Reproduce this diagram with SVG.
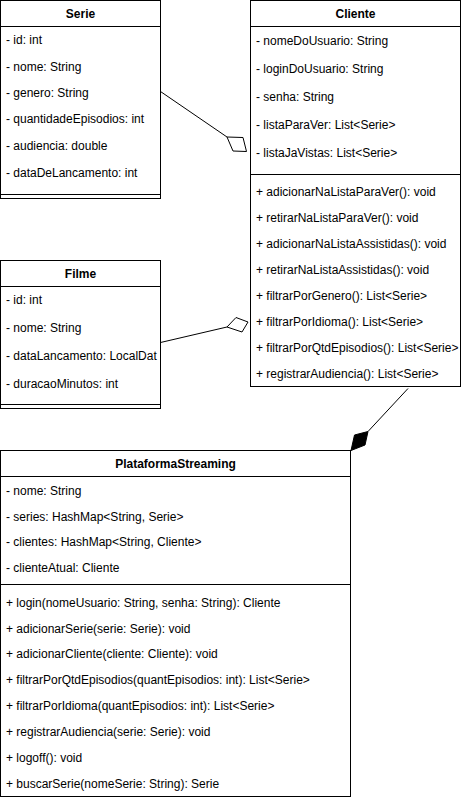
<svg xmlns="http://www.w3.org/2000/svg" width="461" height="800" viewBox="0 0 461 800">
<style>
.box{fill:#fff;stroke:#000;stroke-width:1}
.ln{stroke:#000;stroke-width:1;fill:none}
text{font-family:"Liberation Sans",Arial,Helvetica,sans-serif;font-size:12px;fill:#000}
.t{font-weight:bold;text-anchor:middle}
</style>
<rect width="461" height="800" fill="#fff"/>
<g id="edges">
<path class="ln" d="M160.5 91.5 L227 137"/>
<polygon class="ln" fill="#fff" points="227,137 243,137.5 246.5,151.5 233,151"/>
<path class="ln" d="M160.5 342.5 L227 327"/>
<polygon class="ln" fill="#fff" points="227,327 236,317.5 248,322 242,332"/>
<path class="ln" d="M408 388.5 L368 431.5"/>
<polygon fill="#000" stroke="#000" points="368,431.5 365,445 351,450.5 354.5,435"/>
</g>
<g id="Serie">
<rect class="box" x="0.5" y="0.5" width="160" height="198"/>
<path class="ln" d="M0.5 26.5 H160.5 M0.5 194.5 H160.5"/>
<text class="t" x="80.5" y="17.5">Serie</text>
<text x="6" y="44">- id: int</text>
<text x="6" y="70.5">- nome: String</text>
<text x="6" y="96.5">- genero: String</text>
<text x="6" y="122.5">- quantidadeEpisodios: int</text>
<text x="6" y="149.5">- audiencia: double</text>
<text x="6" y="177">- dataDeLancamento: int</text>
</g>
<g id="Cliente">
<rect class="box" x="250.5" y="0.5" width="210" height="386"/>
<path class="ln" d="M250.5 26.5 H460.5 M250.5 174.5 H460.5"/>
<text class="t" x="355.5" y="17.5">Cliente</text>
<text x="256" y="44.5">- nomeDoUsuario: String</text>
<text x="256" y="72.5">- loginDoUsuario: String</text>
<text x="256" y="100.5">- senha: String</text>
<text x="256" y="128.5">- listaParaVer: List&lt;Serie&gt;</text>
<text x="256" y="156.5">- listaJaVistas: List&lt;Serie&gt;</text>
<text x="256" y="196">+ adicionarNaListaParaVer(): void</text>
<text x="256" y="221.5">+ retirarNaListaParaVer(): void</text>
<text x="256" y="247.5">+ adicionarNaListaAssistidas(): void</text>
<text x="256" y="273.5">+ retirarNaListaAssistidas(): void</text>
<text x="256" y="299.5">+ filtrarPorGenero(): List&lt;Serie&gt;</text>
<text x="256" y="325.5">+ filtrarPorIdioma(): List&lt;Serie&gt;</text>
<text x="256" y="351.5">+ filtrarPorQtdEpisodios(): List&lt;Serie&gt;</text>
<text x="256" y="377.5">+ registrarAudiencia(): List&lt;Serie&gt;</text>
</g>
<g id="Filme">
<rect class="box" x="0.5" y="260.5" width="160" height="148"/>
<path class="ln" d="M0.5 286.5 H160.5 M0.5 404.5 H160.5"/>
<text class="t" x="80.5" y="277.5">Filme</text>
<text x="6" y="303.5">- id: int</text>
<text x="6" y="331.5">- nome: String</text>
<text x="6" y="359.5">- dataLancamento: LocalDat</text>
<text x="6" y="387.5">- duracaoMinutos: int</text>
</g>
<g id="PlataformaStreaming">
<rect class="box" x="0.5" y="450.5" width="350" height="346"/>
<path class="ln" d="M0.5 476.5 H350.5 M0.5 584.5 H350.5"/>
<text class="t" x="175.5" y="467.5">PlataformaStreaming</text>
<text x="6" y="494.5">- nome: String</text>
<text x="6" y="520.5">- series: HashMap&lt;String, Serie&gt;</text>
<text x="6" y="545.5">- clientes: HashMap&lt;String, Cliente&gt;</text>
<text x="6" y="571.5">- clienteAtual: Cliente</text>
<text x="6" y="606.5">+ login(nomeUsuario: String, senha: String): Cliente</text>
<text x="6" y="632.5">+ adicionarSerie(serie: Serie): void</text>
<text x="6" y="657.5">+ adicionarCliente(cliente: Cliente): void</text>
<text x="6" y="683.5">+ filtrarPorQtdEpisodios(quantEpisodios: int): List&lt;Serie&gt;</text>
<text x="6" y="709.5">+ filtrarPorIdioma(quantEpisodios: int): List&lt;Serie&gt;</text>
<text x="6" y="735.5">+ registrarAudiencia(serie: Serie): void</text>
<text x="6" y="761.5">+ logoff(): void</text>
<text x="6" y="787.5">+ buscarSerie(nomeSerie: String): Serie</text>
</g>
</svg>
